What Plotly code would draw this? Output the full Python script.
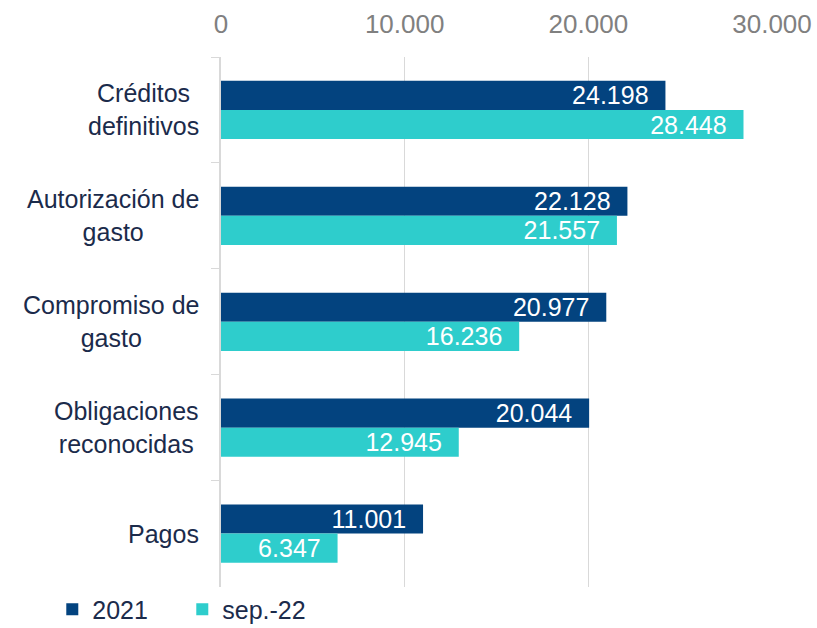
import plotly.graph_objects as go

categories = ["Créditos<br>definitivos", "Autorización de<br>gasto", "Compromiso de<br>gasto",
              "Obligaciones<br>reconocidas", "Pagos"]
cat_keys = ["Créditos definitivos", "Autorización de gasto", "Compromiso de gasto",
            "Obligaciones reconocidas", "Pagos"]
values_2021 = [24198, 22128, 20977, 20044, 11001]
values_sep22 = [28448, 21557, 16236, 12945, 6347]
series_names = ["2021", "sep.-22"]
x_ticks = [0, 10000, 20000, 30000]

NAVY = "#03437F"
TURQ = "#2ECDCC"
FONT = "Arial, Liberation Sans, sans-serif"
TXT = "#1B2B4B"

fig = go.Figure()
for name, vals, col in [(series_names[0], values_2021, NAVY), (series_names[1], values_sep22, TURQ)]:
    fig.add_trace(go.Bar(
        y=cat_keys, x=vals, name=name, orientation="h",
        marker=dict(color=col, line=dict(width=0)),
        texttemplate="%{x:,.0f}\u00a0\u00a0", textposition="inside",
        insidetextanchor="end", constraintext="none",
        textfont=dict(color="white", size=25, family=FONT),
    ))

for key, lab in zip(cat_keys, categories):
    fig.add_annotation(x=0, xref="paper", y=key, yref="y", text=lab, showarrow=False,
                       xanchor="right", yanchor="middle", align="center", xshift=-20,
                       font=dict(size=25, color=TXT, family=FONT))

fig.update_layout(
    width=817, height=628,
    margin=dict(l=221, r=45, t=57, b=41),
    paper_bgcolor="white", plot_bgcolor="white",
    barmode="group", bargap=0.45, bargroupgap=0,
    separators=",.",
    font=dict(family=FONT, size=25, color=TXT),
    showlegend=True,
    legend=dict(orientation="h", xref="container", yref="container", x=0.064, y=0.066,
                xanchor="left", yanchor="top", font=dict(size=25, color=TXT),
                entrywidth=85, traceorder="normal"),
    xaxis=dict(side="top", range=[0, 30000], tickvals=x_ticks, tickformat=",.0f",
               showgrid=True, gridcolor="#D9D9D9", gridwidth=1, zeroline=False,
               showline=False, ticks="", automargin=False, ticklabelstandoff=18,
               tickfont=dict(size=26, color="#808080", family=FONT)),
    yaxis=dict(autorange="reversed", showticklabels=False, ticks="outside", tickson="boundaries",
               ticklen=8, tickcolor="#D9D9D9", showline=True, linecolor="#D9D9D9", linewidth=2,
               showgrid=False, automargin=False),
)

fig.write_html("out.html", config={"displayModeBar": False},
               post_script="document.body.style.margin='0';document.body.style.overflow='hidden';")
